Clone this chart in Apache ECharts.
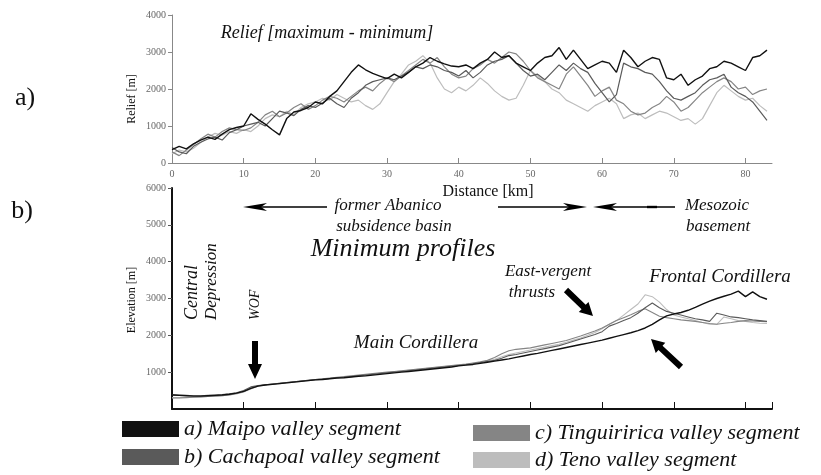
<!DOCTYPE html>
<html>
	<head>
		<meta charset="utf-8">
		<title>Relief and minimum profiles</title>
		<style type="text/css">
			html,body {
				margin: 0;
				padding: 0;
				background: #FFFFFF;
			}
			#chart {
				width: 821px;
				height: 475px;
			}
		</style>
	</head>
	<body>
		<div id="chart"></div>
	</body>
</html>
<script src="https://cdn.jsdelivr.net/npm/echarts@6/dist/echarts.min.js" type="text/javascript" charset="utf-8"></script>
<script type="text/javascript">
	// distance along the profile [km]
	var km = [];
	for (var i = 0; i <= 83; i++) km.push(i);

	var seriesNames = ['a) Maipo valley segment', 'b) Cachapoal valley segment', 'c) Tinguiririca valley segment', 'd) Teno valley segment'];
	var seriesColors = ['#111111', '#5a5a5a', '#858585', '#bdbdbd'];

	// a) relief [maximum - minimum], m
	var reliefMaipo = [360,450,380,520,620,700,640,780,900,960,
		1000,1330,1180,1050,900,760,1200,1380,1420,1500,
		1650,1600,1800,1950,2200,2450,2650,2520,2420,2350,
		2280,2400,2300,2450,2600,2700,2850,2750,2680,2620,
		2600,2650,2550,2700,2800,3000,2850,2900,2700,2600,
		2500,2700,2850,2900,3120,2800,3050,2800,2550,2650,
		2750,2700,2450,3050,2850,2600,2750,2850,2800,2300,
		2250,2400,2100,2250,2350,2550,2600,2750,2700,2600,
		2500,2850,2900,3050];
	var reliefCachapoal = [420,300,250,450,560,650,700,620,820,900,
		1000,1050,1100,1000,1200,1400,1350,1280,1450,1550,
		1500,1620,1750,1600,1500,1750,1900,2100,2200,2250,
		2300,2250,2350,2450,2600,2550,2650,2600,2500,2450,
		2350,2500,2300,2450,2650,2750,2800,2900,2700,2500,
		2350,2400,2250,2450,2650,2500,2700,2550,2450,2150,
		1900,1650,1850,2700,2600,2550,2450,2400,2200,1950,
		1750,1700,1800,1900,2100,2250,2300,2400,2050,1900,
		1800,1650,1400,1150];
	var reliefTinguiririca = [300,200,350,500,650,780,700,850,950,900,
		880,950,1100,1300,1400,1250,1350,1500,1600,1450,
		1550,1700,1800,1750,1650,1800,1950,2050,1950,2150,
		2300,2200,2350,2500,2650,2800,2700,2850,2600,2400,
		2300,2350,2550,2650,2800,2700,2850,3000,2950,2750,
		2500,2300,2200,2100,2000,2400,2600,2350,2100,1800,
		1950,2050,1700,1600,1400,1300,1350,1500,1600,1800,
		1650,1400,1500,1700,1900,2050,2200,2300,2200,2000,
		2050,1850,1950,2000];
	var reliefTeno = [250,350,300,400,550,700,800,750,850,800,
		900,850,1000,1200,1300,1250,1400,1300,1500,1600,
		1650,1750,1700,1850,1750,1650,1700,1550,1450,1600,
		1900,2200,2400,2650,2750,2900,2700,2300,2000,1900,
		2050,1950,2100,2300,2150,1950,1800,1700,1750,2100,
		2500,2350,2200,2000,1900,1700,1600,1500,1400,1550,
		1650,1750,1600,1200,1300,1350,1200,1300,1400,1350,
		1250,1150,1200,1050,1200,1550,1900,2100,1950,1800,
		1700,1750,1550,1400];

	// b) minimum profiles, elevation m
	var elevMaipo = [380,370,360,350,350,360,370,380,400,430,
		480,560,620,650,670,690,710,730,750,770,
		790,800,820,840,850,870,890,900,920,940,
		960,980,1000,1020,1040,1060,1080,1100,1120,1140,
		1170,1190,1210,1240,1270,1300,1330,1360,1400,1440,
		1480,1510,1550,1590,1630,1670,1710,1750,1790,1830,
		1870,1920,1970,2020,2070,2130,2200,2300,2420,2530,
		2580,2620,2680,2760,2850,2930,3000,3060,3120,3200,
		3050,3180,3050,2980];
	var elevCachapoal = [390,380,370,360,360,370,380,390,410,440,
		500,600,640,660,680,700,720,740,760,780,
		800,810,830,850,860,880,900,920,940,960,
		980,1000,1020,1040,1060,1080,1100,1120,1140,1160,
		1180,1200,1230,1260,1290,1320,1380,1450,1480,1520,
		1560,1600,1640,1680,1720,1780,1840,1900,1960,2020,
		2100,2250,2320,2400,2480,2600,2750,2880,2750,2650,
		2600,2550,2500,2450,2420,2380,2600,2550,2500,2480,
		2450,2420,2400,2380];
	var elevTinguiririca = [300,300,310,320,330,340,350,360,380,420,
		470,560,630,660,680,700,720,740,760,780,
		800,820,840,860,880,900,920,940,960,980,
		1000,1020,1040,1060,1080,1100,1120,1140,1160,1180,
		1200,1220,1250,1280,1320,1400,1500,1580,1620,1640,
		1660,1700,1740,1780,1820,1860,1920,1980,2050,2120,
		2200,2300,2400,2480,2560,2650,2720,2620,2520,2480,
		2450,2420,2400,2380,2350,2320,2300,2330,2350,2380,
		2400,2390,2380,2370];
	var elevTeno = [310,310,320,320,330,340,350,360,380,410,
		460,540,620,650,670,690,710,730,750,770,
		790,810,830,850,870,890,910,930,950,970,
		990,1010,1030,1050,1070,1090,1110,1130,1150,1170,
		1190,1210,1240,1270,1300,1350,1420,1480,1520,1560,
		1600,1640,1680,1720,1760,1810,1870,1930,2000,2080,
		2180,2300,2400,2550,2700,2850,3100,3050,2900,2700,
		2550,2500,2450,2400,2350,2300,2300,2500,2450,2400,
		2380,2350,2330,2320];

	var reliefData = [reliefMaipo, reliefCachapoal, reliefTinguiririca, reliefTeno];
	var elevData = [elevMaipo, elevCachapoal, elevTinguiririca, elevTeno];

	var SERIF = '"Liberation Serif", "DejaVu Serif", serif';

	function pairs(vals) {
		var out = [];
		for (var i = 0; i < vals.length; i++) out.push([km[i], vals[i]]);
		return out;
	}

	// thick arrow polygon from (x1,y1) to tip (x2,y2)
	function fatArrow(x1, y1, x2, y2, sw, hl, hw) {
		var len = Math.sqrt((x2 - x1) * (x2 - x1) + (y2 - y1) * (y2 - y1));
		var dx = (x2 - x1) / len, dy = (y2 - y1) / len;
		var nx = -dy, ny = dx;
		var bx = x2 - dx * hl, by = y2 - dy * hl;
		return {
			type: 'polygon',
			shape: { points: [
				[x1 + nx * sw / 2, y1 + ny * sw / 2],
				[bx + nx * sw / 2, by + ny * sw / 2],
				[bx + nx * hw / 2, by + ny * hw / 2],
				[x2, y2],
				[bx - nx * hw / 2, by - ny * hw / 2],
				[bx - nx * sw / 2, by - ny * sw / 2],
				[x1 - nx * sw / 2, y1 - ny * sw / 2]
			] },
			style: { fill: '#000' }
		};
	}

	// thin horizontal arrow with a slim head
	function thinArrow(xTail, xTip, y) {
		var dir = xTip > xTail ? 1 : -1;
		return [{
			type: 'line',
			shape: { x1: xTail, y1: y, x2: xTip - dir * 10, y2: y },
			style: { stroke: '#000', lineWidth: 1.6 }
		}, {
			type: 'polygon',
			shape: { points: [[xTip, y], [xTip - dir * 24, y - 4], [xTip - dir * 18, y], [xTip - dir * 24, y + 4]] },
			style: { fill: '#000' }
		}];
	}

	function label(text, x, y, size, opts) {
		opts = opts || {};
		return {
			type: 'text',
			x: x,
			y: y,
			rotation: opts.rot || 0,
			style: {
				text: text,
				font: (opts.upright ? '' : 'italic ') + size + 'px ' + SERIF,
				fill: opts.color || '#111',
				textAlign: opts.align || 'center',
				textVerticalAlign: 'middle'
			}
		};
	}

	var graphics = [
		label('a)', 25, 98, 26, { upright: true }),
		label('b)', 22, 211, 26, { upright: true }),
		label('Relief [maximum - minimum]', 327, 33, 18),
		label('Relief [m]', 132, 99, 12, { upright: true, rot: Math.PI / 2 }),
		label('Distance [km]', 488, 192, 16, { upright: true }),
		label('Elevation [m]', 132, 300, 12, { upright: true, rot: Math.PI / 2 }),
		label('former Abanico', 388, 206, 17),
		label('subsidence basin', 394, 227, 17),
		label('Mesozoic', 717, 206, 17),
		label('basement', 718, 227, 17),
		label('Minimum profiles', 403, 249, 26),
		label('Central', 192, 320, 18, { align: 'left', rot: Math.PI / 2 }),
		label('Depression', 212, 320, 17, { align: 'left', rot: Math.PI / 2 }),
		label('WOF', 255, 320, 14, { align: 'left', rot: Math.PI / 2 }),
		label('Main Cordillera', 416, 343, 19),
		label('East-vergent', 548, 272, 17),
		label('thrusts', 532, 293, 17),
		label('Frontal Cordillera', 720, 277, 19),
		fatArrow(255, 341, 255, 379, 6, 15, 14),
		fatArrow(566, 290, 593, 316, 6, 13, 14),
		fatArrow(681, 367, 651, 339, 6, 13, 14)
	];
	graphics = graphics.concat(thinArrow(327, 243, 207), thinArrow(498, 587, 207), thinArrow(675, 593, 207));
	graphics.push({ type: 'line', shape: { x1: 647, y1: 207, x2: 657, y2: 207 }, style: { stroke: '#000', lineWidth: 2.4 } });

	var series = [];
	for (var s = 0; s < 4; s++) {
		series.push({
			name: seriesNames[s],
			type: 'line',
			xAxisIndex: 0,
			yAxisIndex: 0,
			data: pairs(reliefData[s]),
			showSymbol: false,
			z: 10 - s,
			lineStyle: { color: seriesColors[s], width: s === 0 ? 1.4 : 1.2 },
			itemStyle: { color: seriesColors[s] }
		});
	}
	for (var s = 0; s < 4; s++) {
		series.push({
			name: seriesNames[s],
			type: 'line',
			xAxisIndex: 1,
			yAxisIndex: 1,
			data: pairs(elevData[s]),
			showSymbol: false,
			z: 10 - s,
			lineStyle: { color: seriesColors[s], width: s === 0 ? 1.4 : 1.1 },
			itemStyle: { color: seriesColors[s] }
		});
	}

	var plain = function (v) { return String(v); };
	var tickFont = { fontFamily: SERIF, fontSize: 10, color: '#666', formatter: plain };
	var legendText = { fontFamily: SERIF, fontStyle: 'italic', fontSize: 22, color: '#111', lineHeight: 22 };

	var myChart = echarts.init(document.getElementById('chart'), null, { renderer: 'canvas' });
	var option = {
		animation: false,
		backgroundColor: '#fff',
		grid: [
			{ left: 172, top: 15, width: 600, height: 148 },
			{ left: 172, top: 188, width: 600, height: 221 }
		],
		xAxis: [{
			gridIndex: 0, type: 'value', min: 0, max: 83.7, interval: 10,
			splitLine: { show: false },
			axisLine: { lineStyle: { color: '#888', width: 1 } },
			axisTick: { inside: true, length: 5, lineStyle: { color: '#888' } },
			axisLabel: Object.assign({ margin: 6, showMaxLabel: false }, tickFont)
		}, {
			gridIndex: 1, type: 'value', min: 0, max: 83.7, interval: 10,
			splitLine: { show: false },
			axisLine: { lineStyle: { color: '#111', width: 2 } },
			axisTick: { inside: true, length: 7, lineStyle: { color: '#111' } },
			axisLabel: { show: false }
		}],
		yAxis: [{
			gridIndex: 0, type: 'value', min: 0, max: 4000, interval: 1000,
			splitLine: { show: false },
			axisLine: { show: true, lineStyle: { color: '#888', width: 1 } },
			axisTick: { show: true, length: 4, lineStyle: { color: '#888' } },
			axisLabel: Object.assign({ margin: 6 }, tickFont)
		}, {
			gridIndex: 1, type: 'value', min: 0, max: 6000, interval: 1000,
			splitLine: { show: false },
			axisLine: { show: true, lineStyle: { color: '#111', width: 2 } },
			axisTick: { show: true, length: 4, lineStyle: { color: '#555' } },
			axisLabel: Object.assign({ margin: 6, showMinLabel: false }, tickFont)
		}],
		legend: [{
			data: [seriesNames[0], seriesNames[1]],
			orient: 'vertical', left: 122, top: 418, padding: 0,
			itemWidth: 57, itemHeight: 16, itemGap: 6, icon: 'rect',
			textStyle: legendText
		}, {
			data: [seriesNames[2], seriesNames[3]],
			orient: 'vertical', left: 473, top: 422, padding: 0,
			itemWidth: 57, itemHeight: 16, itemGap: 5, icon: 'rect',
			textStyle: legendText
		}],
		graphic: graphics,
		series: series
	};
	myChart.setOption(option, true);
</script>
